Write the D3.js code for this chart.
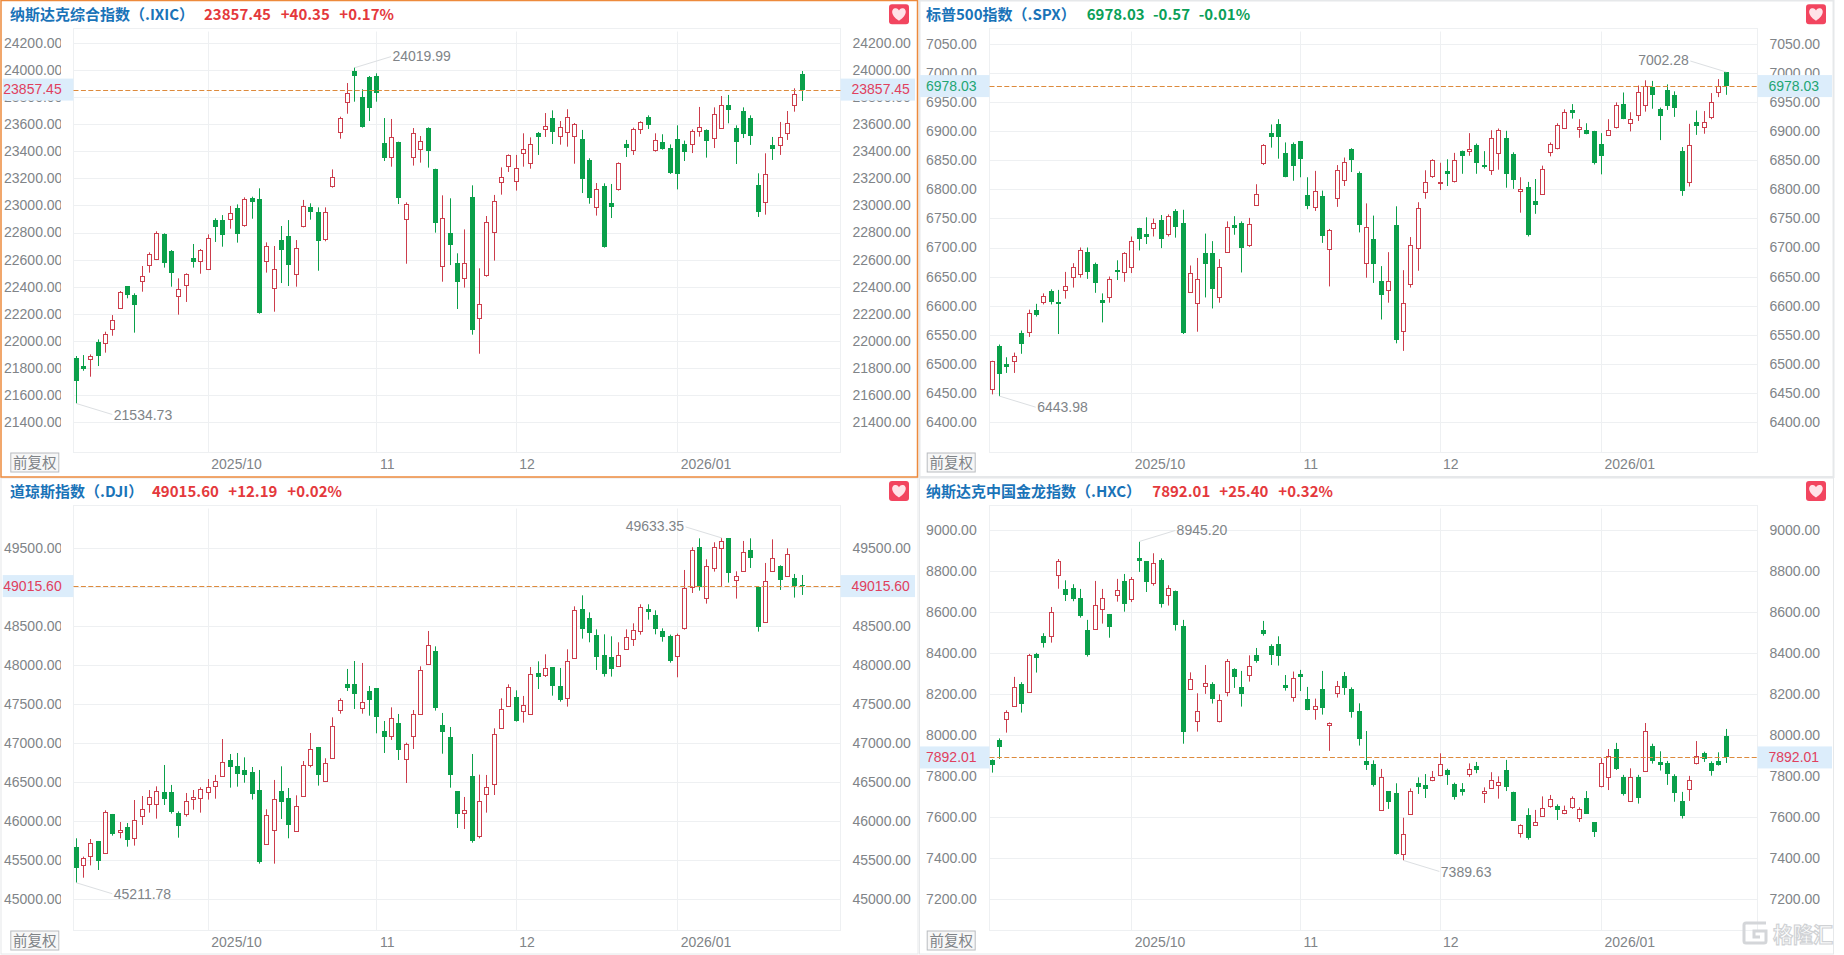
<!DOCTYPE html>
<html>
<head>
<meta charset="utf-8">
<script src="https://cdn.jsdelivr.net/npm/d3@7"></script>
<style>
body { margin: 0; background: #fff; }
svg { display: block; }
text { font-family: "Liberation Sans", Arial, sans-serif; }
.title text { font-family: "Noto Sans CJK SC", sans-serif; font-weight: 700; }
.fq { font-family: "Noto Sans CJK SC", sans-serif; }
.domain { display: none; }
</style>
</head>
<body>
<svg id="svgId" width="1844" height="955"></svg>
<script>
// open, high, low, close for every daily candle
const ixicRows = [
[21869,21886,21534.73,21703],[21812,21893,21777,21790],[21861,21898,21733,21886],[21987,22009,21812,21888],[21980,22066,21911,22046],
[22083,22189,22036,22150],[22244,22367,22239,22360],[22402,22404,22313,22340],[22337,22350,22059,22266],[22444,22552,22362,22476],
[22557,22653,22503,22638],[22604,22809,22596,22796],[22789,22794,22540,22577],[22663,22670,22399,22503],[22328,22461,22192,22384],
[22409,22498,22286,22490],[22609,22715,22540,22584],[22587,22678,22495,22668],[22532,22786,22522,22757],[22892,22905,22730,22841],
[22892,22929,22695,22784],[22897,22996,22828,22947],[22981,23008,22725,22791],[22855,23060,22843,23045],[23053,23065,22902,23028],
[23045,23127,22199,22204],[22587,22727,22503,22700],[22392,22700,22214,22527],[22744,22848,22426,22673],[22772,22892,22404,22559],
[22495,22744,22399,22683],[22848,23041,22838,22994],[22986,23016,22895,22954],[22952,22986,22517,22740],[22754,22986,22735,22949],
[23147,23267,23132,23208],[23541,23657,23494,23645],[23768,23906,23679,23830],[23995,24019.99,23768,23961],[23803,23860,23576,23581],
[23951,23958,23625,23724],[23958,23978,23768,23835],[23460,23647,23329,23354],[23361,23640,23287,23504],[23470,23472,23011,23058],
[22897,23023,22569,23008],[23356,23573,23295,23534],[23416,23514,23317,23475],[23573,23578,23280,23406],[23270,23272,22799,22873],
[22550,23075,22436,22905],[22794,23053,22559,22710],[22572,22646,22234,22436],[22466,22823,22392,22572],[23060,23149,22044,22081],
[22165,22535,21903,22273],[22485,22922,22473,22875],[22806,23078,22592,23031],[23171,23282,23080,23213],[23295,23378,23248,23371],
[23179,23374,23110,23280],[23386,23534,23287,23416],[23317,23504,23272,23457],[23534,23544,23374,23509],[23563,23684,23507,23586],
[23645,23704,23455,23546],[23512,23625,23450,23578],[23541,23712,23435,23657],[23512,23610,23309,23600],[23490,23559,23092,23198],
[23337,23349,23013,23058],[22986,23166,22925,23119],[23142,23164,22688,22695],[23016,23159,22907,22991],[23119,23319,23110,23312],
[23455,23485,23359,23428],[23413,23576,23374,23563],[23563,23623,23529,23615],[23652,23667,23566,23598],[23413,23534,23398,23482],
[23467,23527,23413,23420],[23423,23452,23233,23240],[23490,23593,23119,23235],[23452,23480,23329,23398],[23452,23563,23388,23549],
[23549,23729,23509,23583],[23556,23563,23354,23480],[23497,23726,23425,23675],[23576,23810,23568,23741],[23741,23818,23608,23709],
[23571,23593,23307,23472],[23697,23726,23499,23531],[23645,23667,23448,23517],[23149,23238,22915,22954],[23023,23386,22932,23230],
[23445,23507,23337,23420],[23445,23618,23374,23504],[23534,23699,23485,23608],[23741,23867,23694,23823],[23971,23995,23773,23857.45]
];

const spxRows = [
[6457,6505,6447,6505],[6530,6533,6443.98,6483],[6499,6511,6484,6495],[6504,6519,6484,6514],[6553,6557,6517,6533],
[6555,6593,6546,6588],[6592,6603,6581,6584],[6606,6621,6602,6616],[6625,6628,6602,6607],[6606,6627,6551,6602],
[6627,6658,6612,6633],[6649,6673,6631,6666],[6655,6700,6648,6695],[6693,6700,6646,6658],[6671,6674,6622,6639],
[6609,6621,6571,6605],[6615,6650,6605,6645],[6662,6678,6644,6658],[6657,6692,6641,6690],[6666,6719,6656,6712],
[6733,6734,6695,6715],[6723,6752,6706,6718],[6734,6750,6719,6742],[6747,6756,6699,6715],[6724,6757,6719,6755],
[6763,6766,6717,6736],[6742,6765,6551,6552],[6624,6669,6623,6656],[6604,6682,6555,6645],[6690,6724,6614,6672],
[6690,6711,6595,6629],[6614,6680,6605,6666],[6692,6745,6691,6736],[6738,6754,6722,6733],[6742,6745,6657,6700],
[6704,6751,6701,6740],[6773,6809,6772,6793],[6846,6878,6842,6876],[6898,6912,6872,6891],[6912,6921,6853,6891],
[6862,6881,6821,6822],[6879,6881,6815,6841],[6883,6883,6821,6853],[6790,6821,6766,6772],[6770,6832,6763,6797],
[6788,6798,6708,6720],[6697,6732,6633,6730],[6786,6842,6770,6833],[6817,6855,6806,6848],[6869,6871,6830,6851],
[6828,6831,6726,6738],[6673,6776,6648,6735],[6714,6755,6639,6672],[6642,6668,6576,6619],[6626,6692,6605,6643],
[6738,6771,6535,6540],[6557,6661,6522,6604],[6638,6718,6631,6705],[6699,6778,6660,6768],[6795,6833,6784,6813],
[6824,6852,6820,6850],[6811,6846,6799,6813],[6831,6852,6806,6827],[6815,6863,6812,6850],[6867,6867,6827,6858],
[6867,6897,6858,6870],[6876,6879,6827,6846],[6842,6866,6836,6838],[6834,6902,6825,6888],[6862,6905,6834,6902],
[6888,6901,6803,6827],[6861,6864,6801,6817],[6798,6821,6760,6801],[6804,6813,6719,6722],[6780,6818,6758,6774],
[6793,6841,6792,6836],[6865,6881,6857,6879],[6872,6914,6869,6911],[6905,6938,6904,6933],[6936,6947,6922,6931],
[6904,6921,6889,6907],[6902,6914,6895,6896],[6900,6901,6843,6846],[6879,6897,6826,6858],[6893,6921,6892,6903],
[6908,6950,6905,6945],[6947,6967,6921,6922],[6915,6933,6900,6922],[6929,6979,6918,6967],[6945,6988,6934,6978],
[6977,6987,6939,6963],[6938,6941,6885,6927],[6971,6981,6937,6944],[6962,6969,6925,6941],[6866,6873,6789,6798],
[6812,6913,6805,6876],[6916,6936,6894,6910],[6908,6935,6896,6917],[6924,6966,6921,6951],[6967,6990,6959,6979],
[7002,7002.28,6963,6978.03]
];

const djiRows = [
[45666,45782,45211.78,45406],[45435,45547,45277,45525],[45551,45773,45435,45718],[45743,45748,45376,45495],[45589,46141,45585,46115],
[46089,46094,45816,45842],[45859,45991,45782,45884],[45923,45978,45675,45765],[45782,46273,45688,46021],[46064,46324,45953,46154],
[46218,46401,46111,46316],[46218,46448,46034,46384],[46371,46722,46209,46290],[46371,46466,46098,46124],[46106,46128,45790,45944],
[46098,46363,46060,46256],[46282,46401,46149,46316],[46295,46436,46111,46410],[46371,46542,46278,46444],[46457,46594,46290,46521],
[46585,47055,46581,46765],[46782,46863,46431,46701],[46705,46876,46444,46611],[46654,46820,46495,46598],[46632,46696,46278,46354],
[46397,46658,45457,45478],[45705,46154,45705,46077],[45884,46530,45457,46282],[46384,46705,46030,46252],[46295,46427,45782,45957],
[45871,46333,45867,46192],[46320,46773,46316,46718],[46718,47132,46692,46931],[46949,46953,46457,46598],[46521,46808,46504,46743],
[46816,47333,46816,47218],[47423,47577,47380,47551],[47756,47953,47671,47714],[47756,48055,47440,47637],[47449,48030,47380,47525],
[47667,47735,47354,47560],[47705,47705,47128,47342],[47154,47286,46876,47085],[47098,47461,47043,47320],[47256,47376,46786,46919],
[46803,47008,46491,46987],[47098,47427,46927,47372],[47380,47987,47376,47936],[48021,48440,48021,48256],[48179,48243,47419,47457],
[47230,47389,46867,47149],[47077,47209,46431,46598],[46384,46384,45914,46098],[46111,46312,45901,46141],[46577,46863,45726,45748],
[45816,46598,45782,46256],[46354,46594,46111,46444],[46483,47192,46337,47115],[47201,47577,47201,47436],[47483,47756,47470,47718],
[47594,47679,47278,47286],[47419,47607,47265,47487],[47372,47978,47367,47884],[47897,48051,47696,47855],[47880,48141,47850,47961],
[47974,47978,47611,47739],[47731,47966,47534,47560],[47577,48205,47470,48060],[48090,48756,48085,48705],[48718,48897,48342,48461],
[48602,48679,48295,48419],[48385,48461,47940,48111],[48128,48397,47855,47889],[48102,48372,47855,47957],[47987,48295,47983,48137],
[48214,48461,48197,48367],[48333,48538,48248,48449],[48436,48782,48393,48744],[48718,48782,48585,48688],[48641,48705,48397,48466],
[48436,48474,48303,48367],[48372,48393,48034,48055],[48115,48406,47846,48385],[48483,49222,48457,48987],[49000,49513,48927,49474],
[49513,49628,48957,49004],[48859,49359,48791,49269],[49244,49577,49201,49513],[49500,49633.35,49009,49598],[49628,49628,49060,49188],
[49090,49205,48855,49150],[49205,49594,49197,49449],[49474,49628,49248,49372],[49009,49009,48432,48496],[48551,49312,48547,49085],
[49205,49615,49197,49380],[49269,49282,48966,49098],[49141,49500,49137,49423],[49115,49171,48868,49013],[49028,49158,48902,49015.6]
];

const hxcRows = [
[7878,7883,7818,7854],[7977,7985,7885,7945],[8078,8122,8013,8112],[8141,8285,8140,8234],[8249,8259,8111,8155],
[8211,8397,8208,8392],[8397,8402,8306,8379],[8483,8498,8428,8452],[8483,8626,8452,8600],[8780,8860,8715,8849],
[8712,8756,8655,8686],[8717,8737,8654,8665],[8668,8714,8574,8582],[8512,8563,8384,8392],[8520,8753,8517,8634],
[8615,8714,8545,8668],[8590,8592,8476,8530],[8683,8763,8652,8707],[8751,8787,8603,8639],[8667,8772,8650,8763],
[8863,8945.2,8797,8852],[8849,8850,8699,8750],[8745,8888,8730,8839],[8855,8863,8623,8642],[8683,8732,8633,8717],
[8704,8706,8511,8540],[8532,8563,7959,8018],[8228,8307,8226,8276],[8068,8205,8018,8117],[8242,8343,8202,8254],
[8249,8259,8155,8179],[8070,8200,8063,8171],[8213,8372,8190,8363],[8325,8327,8231,8283],[8236,8314,8140,8203],
[8293,8390,8262,8340],[8390,8426,8354,8364],[8512,8558,8486,8494],[8434,8444,8343,8393],[8444,8483,8340,8389],
[8246,8294,8218,8233],[8189,8311,8164,8278],[8299,8319,8216,8285],[8176,8236,8122,8125],[8127,8179,8076,8141],
[8226,8314,8101,8135],[8049,8063,7924,8060],[8205,8265,8184,8239],[8288,8309,8197,8233],[8226,8234,8086,8115],
[8117,8156,7950,7984],[7875,8021,7831,7855],[7858,7878,7750,7758],[7637,7836,7636,7795],[7727,7728,7641,7676],
[7717,7766,7418,7423],[7420,7598,7389.63,7517],[7618,7741,7618,7727],[7766,7795,7714,7750],[7756,7811,7694,7740],
[7780,7826,7776,7795],[7808,7912,7800,7862],[7829,7837,7758,7808],[7761,7769,7686,7699],[7737,7767,7706,7724],
[7813,7863,7797,7834],[7849,7870,7815,7829],[7719,7746,7670,7730],[7743,7820,7740,7780],[7759,7800,7691,7774],
[7829,7880,7728,7746],[7724,7725,7582,7584],[7525,7566,7501,7561],[7611,7644,7491,7501],[7563,7636,7559,7576],
[7608,7702,7603,7644],[7655,7709,7647,7689],[7654,7663,7587,7637],[7619,7657,7615,7634],[7650,7702,7641,7694],
[7598,7649,7577,7641],[7693,7728,7616,7618],[7576,7577,7504,7530],[7753,7888,7746,7863],[7795,7933,7733,7901],
[7932,7963,7831,7836],[7798,7807,7706,7712],[7681,7839,7678,7798],[7795,7807,7667,7696],[7824,8060,7823,8023],
[7948,7959,7862,7876],[7868,7922,7828,7855],[7865,7875,7758,7813],[7803,7810,7676,7720],[7678,7724,7594,7605],
[7740,7802,7680,7780],[7863,7972,7858,7901],[7914,7920,7870,7883],[7863,7873,7803,7828],[7875,7917,7852,7855],
[7995,8031,7865,7892.01]
];

const ixicTicks = [24200,24000,23800,23600,23400,23200,23000,22800,22600,22400,22200,22000,21800,21600,21400];
const spxTicks = [7050,7000,6950,6900,6850,6800,6750,6700,6650,6600,6550,6500,6450,6400];
const djiTicks = [49500,49000,48500,48000,47500,47000,46500,46000,45500,45000];
const hxcTicks = [9000,8800,8600,8400,8200,8000,7800,7600,7400,7200];

const monthLabels = ["2025/10", "11", "12", "2026/01"];
const shortMonthIdx = [18, 41, 60, 82];  // ixic and dji start one session later
const longMonthIdx = [19, 42, 61, 83];

const RED = "#cc3d4c";
const GREEN = "#0aa04a";
const TEXT_GREY = "#808488";
const GRID = "#eef0f2";

const panels = [
    {
        id: "spx", rows: spxRows, ticks: spxTicks, months: longMonthIdx,
        title: "标普500指数（.SPX）", quote: ["6978.03", "-0.57", "-0.01%"], quoteX: [1086.7, 1153, 1198.7],
        color: "#0b9f58", priceColor: "#1fa573",
        box: [919.5, 0.5, 914, 476.5], stroke: "#e6e8ea", strokeW: 2,
        left: 989.5, right: 1757.5, top: 28.5, bottom: 452.5, yTop: 44.3, yBot: 421.7,
        lastX: 1726.3, axisLeftX: 976.7, hiSide: -1, loSide: 1, tagLeft: 920, tagRight: 1832, heartX: 1806, heartY: 4.3
    },
    {
        id: "dji", rows: djiRows, ticks: djiTicks, months: shortMonthIdx,
        title: "道琼斯指数（.DJI）", quote: ["49015.60", "+12.19", "+0.02%"], quoteX: [152, 228.3, 287.3],
        color: "#e4393c", priceColor: "#e0405e",
        box: [1, 478, 917, 476], stroke: "#e6e8ea", strokeW: 1,
        left: 73.5, right: 840.5, top: 505.5, bottom: 930.5, yTop: 548.3, yBot: 899.3,
        lastX: 802.3, axisLeftX: 62.4, clip: 61, hiSide: -1, loSide: 1, tagLeft: 2.7, tagRight: 915, heartX: 889, heartY: 481
    },
    {
        id: "hxc", rows: hxcRows, ticks: hxcTicks, months: longMonthIdx,
        title: "纳斯达克中国金龙指数（.HXC）", quote: ["7892.01", "+25.40", "+0.32%"], quoteX: [1152.3, 1219.3, 1278.3],
        color: "#e4393c", priceColor: "#e0405e",
        box: [919.5, 478, 914, 476], stroke: "#e6e8ea", strokeW: 1,
        left: 989.5, right: 1757.5, top: 505.5, bottom: 930.5, yTop: 530.3, yBot: 899.3,
        lastX: 1726.3, axisLeftX: 976.7, hiSide: 1, loSide: 1, tagLeft: 920, tagRight: 1832, heartX: 1806, heartY: 481
    },
    {
        id: "ixic", rows: ixicRows, ticks: ixicTicks, months: shortMonthIdx,
        title: "纳斯达克综合指数（.IXIC）", quote: ["23857.45", "+40.35", "+0.17%"], quoteX: [204, 280.7, 339.3],
        color: "#e4393c", priceColor: "#e0405e",
        box: [1, 0.5, 916.5, 476.5], stroke: "#ed8a3c", strokeW: 1.5,
        left: 73.5, right: 840.5, top: 28.5, bottom: 452.5, yTop: 43.3, yBot: 421.7,
        lastX: 802.3, axisLeftX: 62.4, clip: 61, hiSide: 1, loSide: 1, tagLeft: 2.7, tagRight: 915, heartX: 889, heartY: 4.3
    }
];

const svg = d3.select("svg");
const priceFormat = d3.format(".2f");

panels.forEach(drawPanel);
drawWatermark();

function drawPanel(p) {
    const g = svg.append("g").attr("id", p.id);
    const lastIdx = p.rows.length - 1;
    const headY = p.box[1] + 14;

    const x = d3.scaleLinear().domain([0, lastIdx]).range([p.left + 2.8, p.lastX]);
    const y = d3.scaleLinear()
        .domain([p.ticks[0], p.ticks[p.ticks.length - 1]])
        .range([p.yTop, p.yBot]);

    g.append("rect")
        .attr("x", p.box[0]).attr("y", p.box[1])
        .attr("width", p.box[2]).attr("height", p.box[3])
        .attr("fill", "#fff")
        .attr("stroke", p.stroke).attr("stroke-width", p.strokeW);

    drawHeader(g, p, headY);

    // frame and grid
    g.append("rect")
        .attr("x", p.left).attr("y", p.top)
        .attr("width", p.right - p.left).attr("height", p.bottom - p.top)
        .attr("fill", "none").attr("stroke", GRID);

    g.append("g").selectAll("line.hgrid")
        .data(p.ticks)
        .join("line")
        .attr("class", "hgrid")
        .attr("x1", p.left).attr("x2", p.right)
        .attr("y1", d => Math.round(y(d)) + 0.5).attr("y2", d => Math.round(y(d)) + 0.5)
        .attr("stroke", GRID);

    g.append("g").selectAll("line.vgrid")
        .data(p.months)
        .join("line")
        .attr("class", "vgrid")
        .attr("x1", d => snap(x(d))).attr("x2", d => snap(x(d)))
        .attr("y1", p.top + 3).attr("y2", p.bottom)
        .attr("stroke", GRID);

    drawAxes(g, p, x, y);
    drawCandles(g, p, x, y);
    drawExtremes(g, p, x, y);
    drawLastPrice(g, p, y);

    // button in the lower left
    const fqX = p.axisLeftX - (p.clip ? 52.1 : 50);
    g.append("rect")
        .attr("x", fqX + 0.5).attr("y", p.bottom + 0.5)
        .attr("width", 48).attr("height", 19)
        .attr("fill", "#f7f7f7").attr("stroke", "#b9bcc0");
    g.append("text")
        .attr("class", "fq")
        .attr("x", fqX + 24.5).attr("y", p.bottom + 10)
        .attr("dy", ".35em").attr("text-anchor", "middle")
        .attr("font-size", 14.5).attr("fill", TEXT_GREY)
        .text("前复权");
}

function drawHeader(g, p, headY) {
    const head = g.append("g").attr("class", "title");

    head.append("text")
        .attr("x", p.box[0] + (p.id === "ixic" || p.id === "dji" ? 9 : 6.5))
        .attr("y", headY)
        .attr("dy", ".36em")
        .attr("font-size", 15).attr("fill", "#1a73b8")
        .text(p.title);

    head.selectAll("text.quote")
        .data(p.quote)
        .join("text")
        .attr("class", "quote")
        .attr("x", (d, i) => p.quoteX[i])
        .attr("y", headY)
        .attr("dy", ".36em")
        .attr("font-size", 15).attr("fill", p.color)
        .text(d => d);

    g.append("rect")
        .attr("x", p.heartX).attr("y", p.heartY)
        .attr("width", 20).attr("height", 20).attr("rx", 3)
        .attr("fill", "#f2455f");
    g.append("path")
        .attr("transform", `translate(${p.heartX + 10},${p.heartY + 10})`)
        .attr("d", "M0,6.5 C-10,0 -7,-6.5 -3.2,-6 C-1.5,-5.8 -0.5,-4.8 0,-3.8 C0.5,-4.8 1.5,-5.8 3.2,-6 C7,-6.5 10,0 0,6.5 Z")
        .attr("fill", "#ffe3e8");
}

function drawAxes(g, p, x, y) {
    const leftAxis = g.append("g")
        .attr("transform", `translate(${p.axisLeftX},0)`)
        .call(d3.axisLeft(y).tickValues(p.ticks).tickFormat(priceFormat).tickSize(0).tickPadding(0));

    if (p.clip) {
        g.append("clipPath").attr("id", "clip-" + p.id)
            .append("rect")
            .attr("x", -70).attr("y", 0)
            .attr("width", 70 - (p.axisLeftX - p.clip)).attr("height", 955);
        leftAxis.attr("clip-path", `url(#clip-${p.id})`);
    }

    const rightAxis = g.append("g")
        .attr("transform", `translate(${p.right + 12},0)`)
        .call(d3.axisRight(y).tickValues(p.ticks).tickFormat(priceFormat).tickSize(0).tickPadding(0));

    const bottomAxis = g.append("g")
        .attr("transform", `translate(0,${p.bottom})`)
        .call(d3.axisBottom(x).tickValues(p.months)
            .tickFormat((d, i) => monthLabels[i]).tickSize(0));

    bottomAxis.selectAll("text")
        .attr("text-anchor", "start")
        .attr("x", 2.5).attr("y", 12).attr("dy", ".32em");

    [leftAxis, rightAxis, bottomAxis].forEach(function (axis) {
        axis.attr("font-family", null);
        axis.selectAll("text")
            .attr("fill", TEXT_GREY)
            .style("font-size", "14px");
    });
}

function drawCandles(g, p, x, y) {
    const candle = g.append("g").attr("class", "candles")
        .selectAll("g.candle")
        .data(p.rows)
        .join("g")
        .attr("class", "candle")
        .attr("transform", (d, i) => `translate(${snap(x(i))},0)`);

    const colorOf = d => d[3] >= d[0] ? RED : GREEN;

    candle.append("line")
        .attr("y1", d => y(d[1])).attr("y2", d => y(d[2]))
        .attr("stroke", colorOf);

    // up days are hollow red, down days solid green
    candle.append("rect")
        .attr("x", d => d[3] >= d[0] ? -2 : -2.5)
        .attr("width", d => d[3] >= d[0] ? 4 : 5)
        .attr("y", d => Math.round(y(Math.max(d[0], d[3]))) + (d[3] >= d[0] ? 0.5 : 0))
        .attr("height", d => Math.max(1, Math.round(y(Math.min(d[0], d[3]))) - Math.round(y(Math.max(d[0], d[3])))))
        .attr("fill", d => d[3] >= d[0] ? "#fff" : GREEN)
        .attr("stroke", d => d[3] >= d[0] ? RED : "none");
}

function drawExtremes(g, p, x, y) {
    const hiIdx = d3.maxIndex(p.rows, d => d[1]);
    const loIdx = d3.minIndex(p.rows, d => d[2]);
    const notes = [
        { i: hiIdx, price: p.rows[hiIdx][1], side: p.hiSide, up: -1 },
        { i: loIdx, price: p.rows[loIdx][2], side: p.loSide, up: 1 }
    ];

    const note = g.append("g").attr("class", "extremes")
        .selectAll("g")
        .data(notes)
        .join("g");

    note.append("line")
        .attr("x1", d => x(d.i)).attr("y1", d => y(d.price))
        .attr("x2", d => x(d.i) + d.side * 36).attr("y2", d => y(d.price) + d.up * 11)
        .attr("stroke", "#dcdfe2");

    note.append("text")
        .attr("x", d => x(d.i) + d.side * 37.5)
        .attr("y", d => y(d.price) + d.up * 11.5)
        .attr("dy", ".34em")
        .attr("text-anchor", d => d.side > 0 ? "start" : "end")
        .attr("font-size", 14).attr("fill", TEXT_GREY)
        .text(d => priceFormat(d.price));
}

function drawLastPrice(g, p, y) {
    const last = p.rows[p.rows.length - 1][3];
    const py = y(last);
    const tags = [
        { x: p.tagLeft, w: p.left - p.tagLeft, tx: p.axisLeftX - 0.7 + (p.clip ? 0 : 0.6), anchor: "end" },
        { x: p.right, w: p.tagRight - p.right, tx: p.right + 11, anchor: "start" }
    ];

    const tag = g.append("g").selectAll("g").data(tags).join("g");

    tag.append("rect")
        .attr("x", d => d.x).attr("y", py - 11)
        .attr("width", d => d.w).attr("height", 22)
        .attr("fill", "#dcedfb");

    tag.append("text")
        .attr("x", d => d.tx).attr("y", py)
        .attr("dy", ".34em")
        .attr("text-anchor", d => d.anchor)
        .attr("font-size", 14).attr("fill", p.priceColor)
        .text(priceFormat(last));

    g.append("line")
        .attr("x1", p.left).attr("x2", p.right)
        .attr("y1", Math.round(py) + 0.5).attr("y2", Math.round(py) + 0.5)
        .attr("stroke", "#dd8a3c")
        .attr("stroke-dasharray", "5,2.4");
}

function drawWatermark() {
    const wm = svg.append("g").attr("id", "watermark");

    wm.append("path")
        .attr("d", "M1766,923 L1746,923 Q1744,923 1744,925 L1744,941 Q1744,943 1746,943 L1764,943 Q1766,943 1766,941 L1766,931 L1754,931 L1754,937 L1760,937")
        .attr("fill", "none")
        .attr("stroke", "#d4d6d9").attr("stroke-width", 3);

    wm.append("text")
        .attr("x", 1773).attr("y", 942)
        .attr("textLength", 60).attr("lengthAdjust", "spacingAndGlyphs")
        .attr("font-size", 21).attr("font-weight", 700)
        .attr("fill", "#fff").attr("stroke", "#d0d2d5").attr("stroke-width", 1.2)
        .style("font-family", "'Noto Sans CJK SC', sans-serif")
        .text("格隆汇");
}

function snap(v) {
    return Math.floor(v) + 0.5;
}
</script>
</body>
</html>
